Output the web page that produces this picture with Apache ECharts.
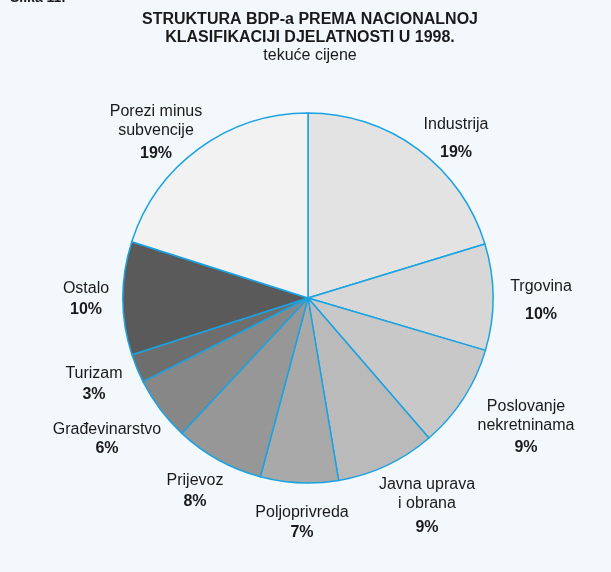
<!DOCTYPE html>
<html>
<head>
<meta charset="utf-8">
<script src="https://cdn.jsdelivr.net/npm/echarts@6/dist/echarts.min.js"></script>
<style>
  html, body { margin: 0; padding: 0; background: #f3f8fc; }
  #chart { width: 611px; height: 572px; }
</style>
</head>
<body>
<div id="chart"></div>
<script>
// ---- data ----
const categories = ['Industrija', 'Trgovina', 'Poslovanje\nnekretninama', 'Javna uprava\ni obrana',
  'Poljoprivreda', 'Prijevoz', 'Građevinarstvo', 'Turizam', 'Ostalo', 'Porezi minus\nsubvencije']
const shares = [20.3, 9.3, 9.1, 8.7, 6.8, 7.8, 5.6, 2.5, 9.9, 20.1]
// percentages as printed on the chart
const printed = [19, 10, 9, 9, 7, 8, 6, 3, 10, 19]

// ---- layout / style ----
const colors = ['#e3e3e3', '#d7d7d7', '#c8c8c8', '#bababa', '#a9a9a9',
  '#979797', '#878787', '#6e6e6e', '#5a5a5a', '#f2f2f2']
// label anchor: centre x, centre y of first line
const labelPos = [[456, 125], [541, 287], [526, 407], [427, 485], [302, 513],
  [195, 481], [107, 430], [94, 374], [86, 289], [156, 112]]
// distance from last name line to the percent line
const pctGap = [28, 28, 22, 24, 20, 21, 19, 21, 21, 23]

const FONT = '"Liberation Sans", Arial, sans-serif'
const NAME_LH = 19

const chart = echarts.init(document.getElementById('chart'))

const data = categories.map((c, i) => ({
  name: c,
  value: shares[i],
  itemStyle: { color: colors[i] },
  label: {
    rich: {
      n: { fontFamily: FONT, fontSize: 16, color: '#1a1a1a', lineHeight: NAME_LH, align: 'center' },
      p: { fontFamily: FONT, fontSize: 16, fontWeight: 'bold', color: '#1a1a1a',
           lineHeight: 2 * pctGap[i] - NAME_LH, align: 'center' }
    }
  }
}))

chart.setOption({
  backgroundColor: '#f3f8fc',
  title: {
    text: 'STRUKTURA BDP-a PREMA NACIONALNOJ\nKLASIFIKACIJI DJELATNOSTI U 1998.',
    subtext: 'tekuće cijene',
    left: 310,
    top: 11,
    textAlign: 'center',
    itemGap: 0,
    padding: 0,
    textStyle: { fontFamily: FONT, fontSize: 16, fontWeight: 'bold', color: '#1a1a1a', lineHeight: 18 },
    subtextStyle: { fontFamily: FONT, fontSize: 16, color: '#1a1a1a', lineHeight: 18 }
  },
  graphic: [{
    type: 'text', left: 10, top: -9,
    style: { text: 'Slika 11.', font: 'bold 14px ' + FONT, fill: '#1a1a1a' }
  }],
  series: [{
    type: 'pie',
    center: [308, 298],
    radius: 185,
    startAngle: 90,
    clockwise: true,
    avoidLabelOverlap: false,
    itemStyle: { borderColor: '#1aa3e2', borderWidth: 1.5 },
    emphasis: { disabled: true },
    label: {
      show: true,
      position: 'outside',
      formatter: p => p.name.split('\n').map(s => '{n|' + s + '}').join('\n') +
        '\n{p|' + printed[p.dataIndex] + '%}'
    },
    labelLine: { show: false },
    labelLayout: p => {
      const [x, y] = labelPos[p.dataIndex]
      return { x: x, y: y - NAME_LH / 2, align: 'center', verticalAlign: 'top' }
    },
    data: data
  }]
})
</script>
</body>
</html>
